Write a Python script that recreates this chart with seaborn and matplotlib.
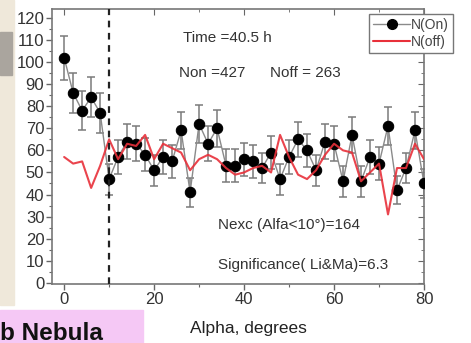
import matplotlib
matplotlib.use("Agg")
import matplotlib.pyplot as plt
import matplotlib.patches as mpatches
from matplotlib.lines import Line2D
from matplotlib.ticker import MultipleLocator
import pandas as pd
import seaborn as sns

# alpha bins (degrees)
alpha = list(range(0, 81, 2))

# counts in the ON region
n_on = [102, 86, 78, 84, 77, 47, 57, 64, 63, 58, 51, 57, 55, 69, 41, 72, 63, 70,
        53, 53, 56, 55, 52, 59, 47, 57, 65, 60, 51, 64, 63, 46, 67, 46, 57, 54,
        71, 42, 52, 69, 45]

# statistical errors of the ON counts
err_on = [10, 9, 9, 9, 9, 7, 7.5, 8, 8, 7.5, 7, 7.5, 7.5, 8.5, 6.5, 8.5, 8, 8.5,
          7.5, 7.5, 7.5, 7.5, 7, 7.5, 7, 7.5, 8, 7.5, 7, 8, 8, 7, 8, 7, 7.5, 7.5,
          8.5, 6.5, 7, 8.5, 6.5]

# counts in the OFF region
n_off = [57, 54, 55, 43, 53, 65, 56, 63, 62, 67, 56, 63, 61, 59, 51, 56, 58, 56,
         52, 49, 50, 52, 53, 50, 67, 57, 49, 47, 51, 58, 63, 60, 59, 46, 50, 54,
         31, 52, 52, 63, 56]

annotations = ["Time =40.5 h", "Non =427", "Noff = 263",
               "Nexc (Alfa<10\u00b0)=164", "Significance( Li&Ma)=6.3"]

df = pd.DataFrame({"alpha": alpha, "on": n_on, "off": n_off, "err": err_on})

sns.set_style("ticks")
plt.rcParams["font.family"] = ["Liberation Sans", "DejaVu Sans"]

fig = plt.figure(figsize=(4.71, 3.43), dpi=100)
fig.patch.set_facecolor("white")

# screenshot leftovers around the plot
fig.patches.append(mpatches.Rectangle((0, 38 / 343), 14 / 471, 305 / 343,
                                      transform=fig.transFigure, color="#efe8da", zorder=0))
fig.patches.append(mpatches.Rectangle((0, 1 - 75 / 343), 12 / 471, 43 / 343,
                                      transform=fig.transFigure, color="#aaa59e", zorder=0))
fig.patches.append(mpatches.Rectangle((0, 0), 143 / 471, 33 / 343,
                                      transform=fig.transFigure, color="#f5c8f5", zorder=0))
fig.text(0.0, 2.5 / 343, "b Nebula", fontsize=17.5, fontweight="bold",
         color="#111111", ha="left", va="baseline")

ax = fig.add_axes([52 / 471, 1 - 284 / 343, 372 / 471, 275 / 343])

ax.errorbar(df["alpha"], df["on"], yerr=df["err"], fmt="none", ecolor="#7a7a7a",
            elinewidth=1.1, capsize=3, capthick=1.1, zorder=2)
sns.lineplot(data=df, x="alpha", y="on", ax=ax, color="#8a8a8a", linewidth=1.0,
             marker="o", markersize=7.5, markerfacecolor="black",
             markeredgecolor="black", zorder=3)
sns.lineplot(data=df, x="alpha", y="off", ax=ax, color="#e8303a", linewidth=1.5,
             alpha=0.9, zorder=4)
ax.axvline(10, color="#222222", linestyle=(0, (3, 2.5)), linewidth=1.6, zorder=5)

ax.set_xlim(-2.7, 80)
ax.set_ylim(-0.5, 124)
ax.xaxis.set_major_locator(MultipleLocator(20))
ax.xaxis.set_minor_locator(MultipleLocator(10))
ax.yaxis.set_major_locator(MultipleLocator(10))
ax.yaxis.set_minor_locator(MultipleLocator(5))
ax.tick_params(which="major", direction="out", length=4, width=1,
               color="#666666", labelsize=12, labelcolor="#333333", pad=1.5)
ax.tick_params(which="minor", direction="out", length=2.5, width=0.8, color="#666666")

# mirrored inward ticks on top and right, no labels
top = ax.secondary_xaxis("top")
top.xaxis.set_major_locator(MultipleLocator(20))
top.xaxis.set_minor_locator(MultipleLocator(10))
top.tick_params(which="both", direction="in", color="#666666", labeltop=False)
top.tick_params(which="major", length=4)
top.tick_params(which="minor", length=2.5)
right = ax.secondary_yaxis("right")
right.yaxis.set_major_locator(MultipleLocator(10))
right.yaxis.set_minor_locator(MultipleLocator(5))
right.tick_params(which="both", direction="in", color="#666666", labelright=False)
right.tick_params(which="major", length=4)
right.tick_params(which="minor", length=2.5)
for sec in (top, right):
    for s in sec.spines.values():
        s.set_visible(False)

for s in ax.spines.values():
    s.set_visible(True)
    s.set_color("#777777")
    s.set_linewidth(1.2)

ax.set_xlabel("")
ax.set_ylabel("")
fig.text(248 / 471, 1 - 328 / 343, "Alpha, degrees", fontsize=12.5,
         color="#222222", ha="center", va="center")

txt = dict(fontsize=11, color="#333333", ha="left", va="center")
ax.text(26.4, 111, annotations[0], **txt)
ax.text(25.6, 95, annotations[1], **txt)
ax.text(45.8, 95, annotations[2], **txt)
ax.text(34.2, 26.3, annotations[3], **txt)
ax.text(34.2, 8.2, annotations[4], **txt)

handles = [
    Line2D([], [], color="#8a8a8a", linewidth=1.0, marker="o", markersize=7,
           markerfacecolor="black", markeredgecolor="black"),
    Line2D([], [], color="#e8303a", linewidth=1.5),
]
leg = ax.legend(handles, ["N(On)", "N(off)"], loc="upper right",
                bbox_to_anchor=(453 / 471, 1 - 14 / 343), bbox_transform=fig.transFigure,
                borderaxespad=0, fontsize=10, handlelength=2.6, handletextpad=0.1,
                borderpad=0.3, labelspacing=0.2, fancybox=False, framealpha=1,
                edgecolor="#777777", labelcolor="#444444")
leg.get_frame().set_linewidth(1.0)
leg.set_zorder(10)

fig.savefig("out.png", dpi=100)
